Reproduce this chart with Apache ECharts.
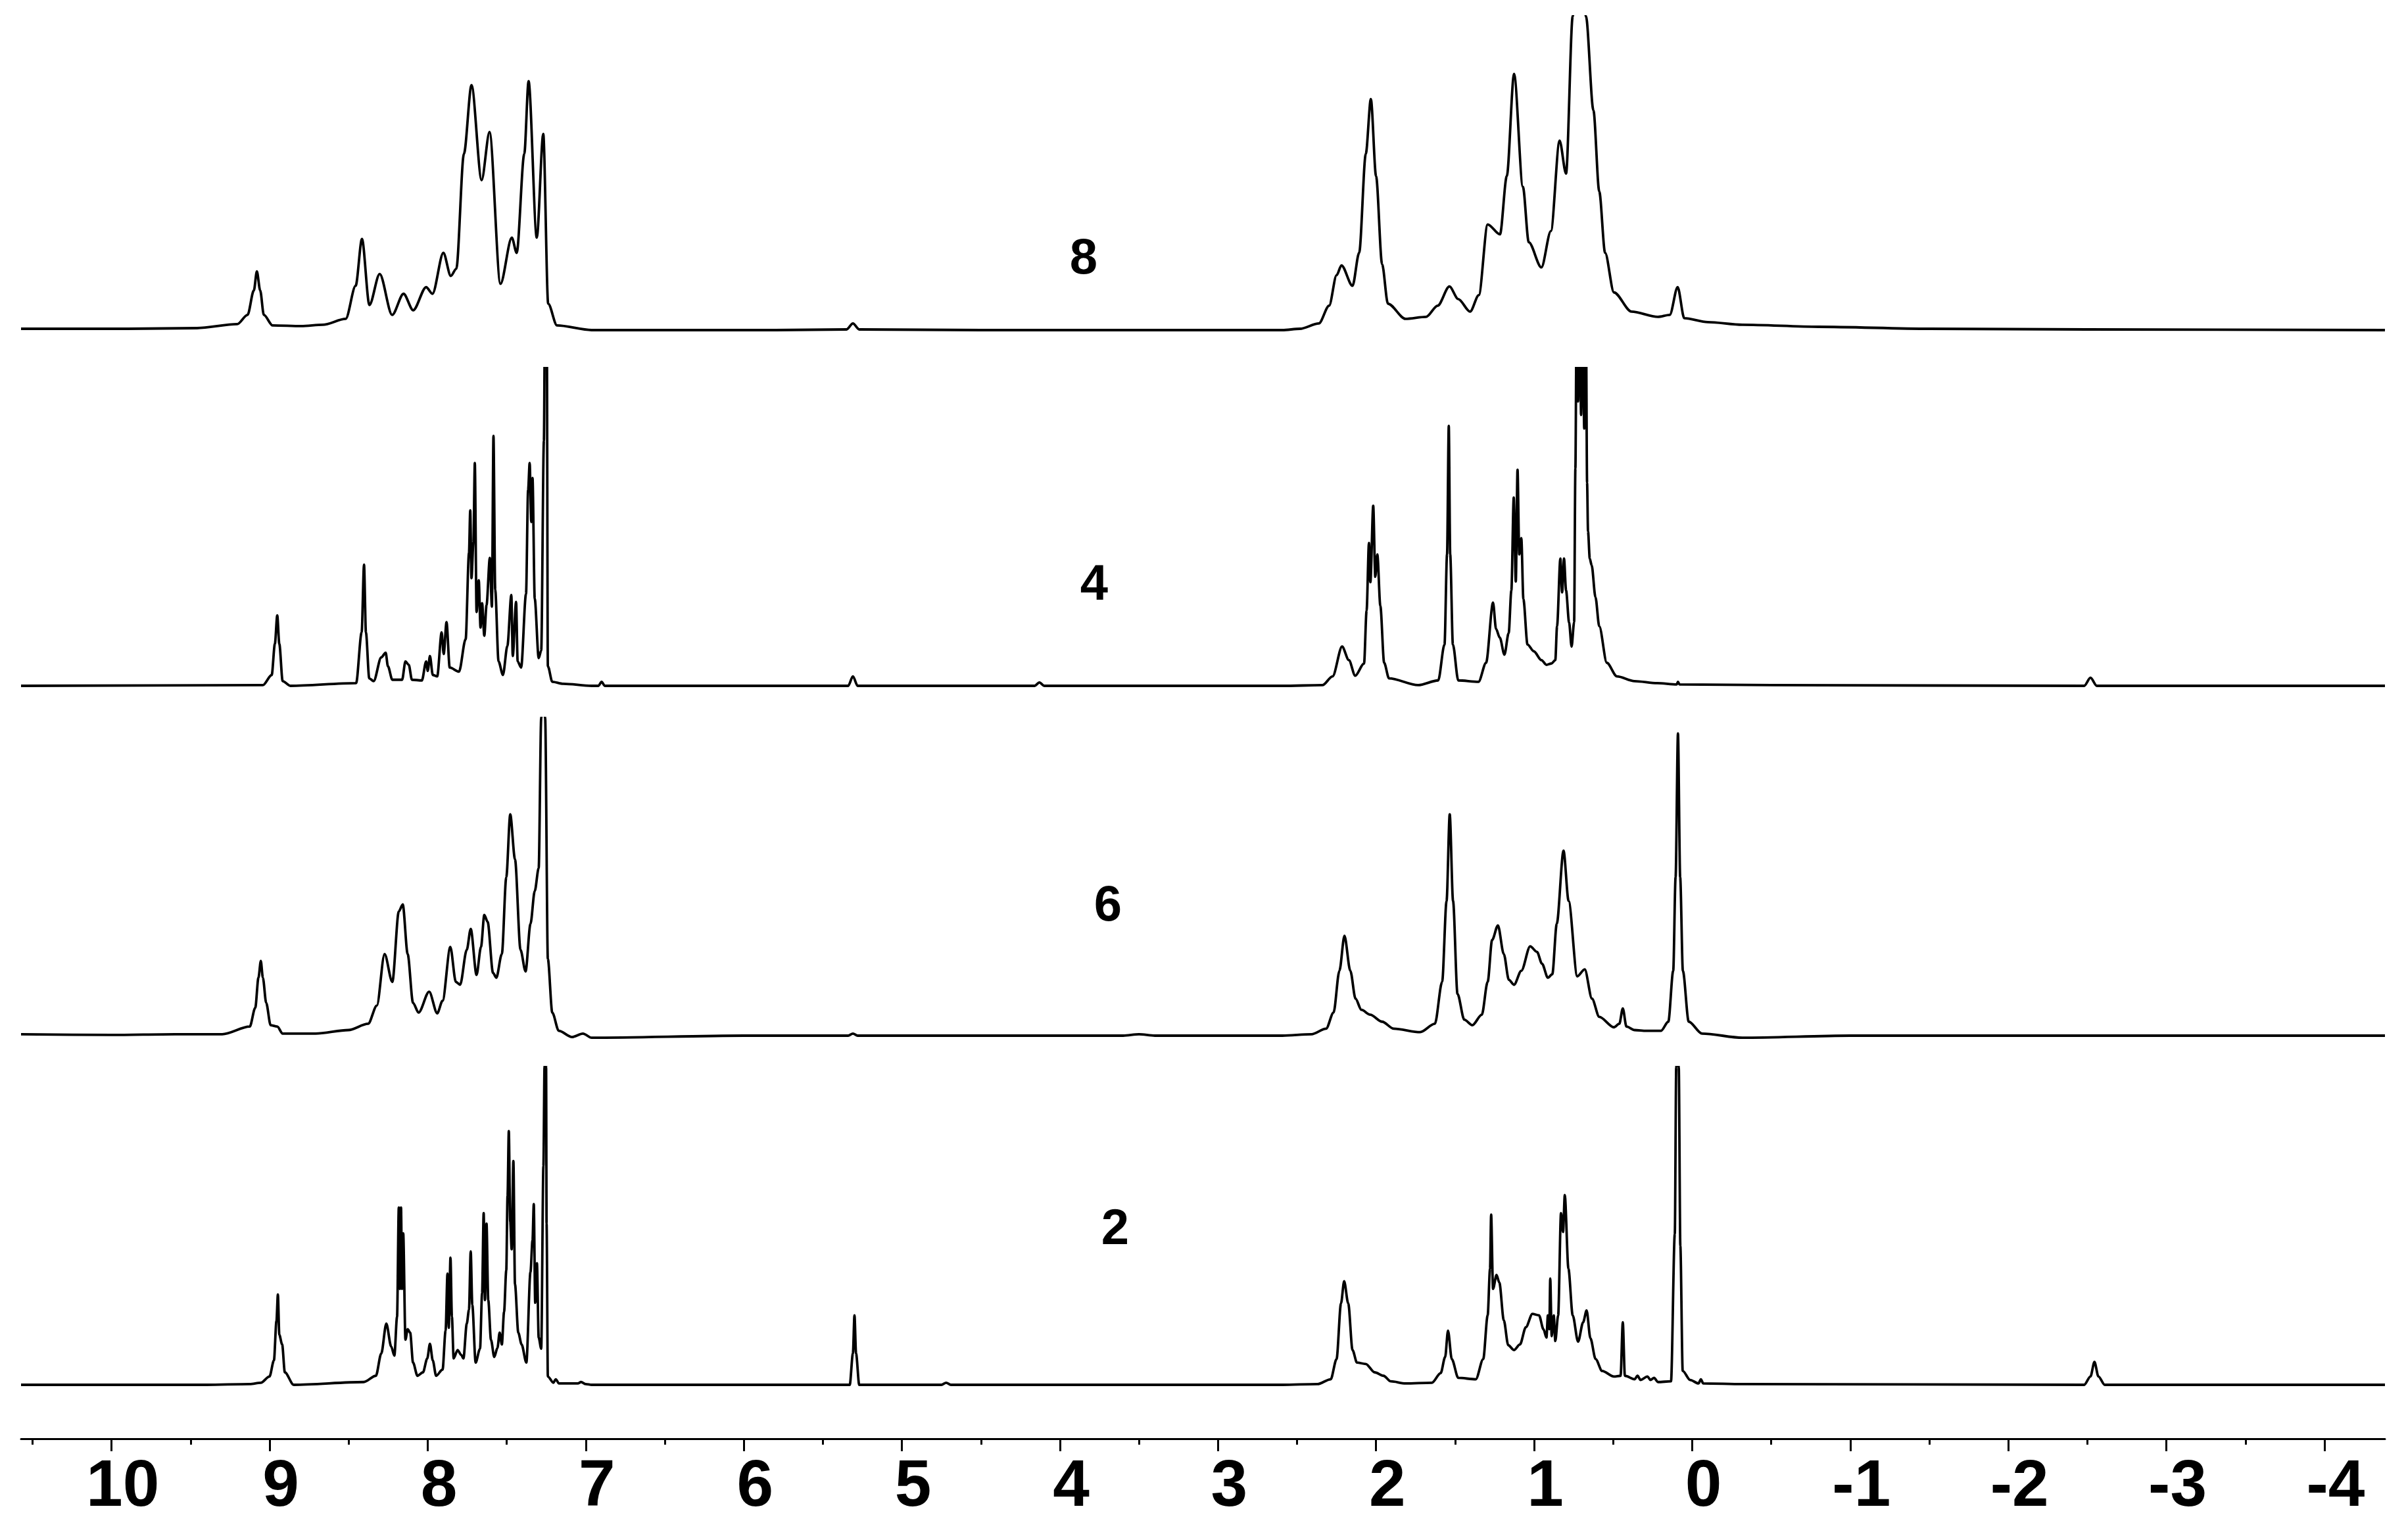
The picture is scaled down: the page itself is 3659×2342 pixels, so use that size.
<!DOCTYPE html>
<html><head><meta charset="utf-8">
<script src="https://cdn.jsdelivr.net/npm/echarts@6/dist/echarts.min.js"></script>
<style>html,body{margin:0;padding:0;background:#fff}#c{width:3659px;height:2342px}</style>
</head><body><div id="c"></div>
<script>
// ---- data: [chemical shift (ppm), intensity (arb. units)] ----
const spectrum8 = [[10.573,2],[9.9,2],[9.46,3],[9.205,9],[9.14,23],[9.1,60],[9.081,89],[9.06,60],[9.037,23],[8.981,7],[8.8,6],[8.664,8],[8.519,17],[8.456,67],[8.416,138],[8.369,38],[8.304,85],[8.225,23],[8.153,55],[8.092,30],[8.01,65],[7.97,55],[7.901,117],[7.854,82],[7.819,93],[7.771,267],[7.723,371],[7.659,227],[7.609,300],[7.54,70],[7.468,140],[7.437,117],[7.389,267],[7.362,377],[7.31,140],[7.269,297],[7.238,40],[7.182,7],[6.963,0],[5.8,0],[5.35,1],[5.31,10],[5.27,1],[4.5,0],[3.5,0],[2.593,0],[2.482,2],[2.362,10],[2.297,37],[2.25,83],[2.219,98],[2.149,67],[2.107,117],[2.065,267],[2.033,350],[2.0,233],[1.962,100],[1.925,40],[1.814,17],[1.684,20],[1.61,37],[1.536,66],[1.48,47],[1.405,28],[1.35,53],[1.294,160],[1.216,145],[1.173,233],[1.127,388],[1.071,217],[1.034,133],[0.954,95],[0.894,150],[0.839,287],[0.798,237],[0.756,475],[0.715,620],[0.672,475],[0.625,333],[0.588,210],[0.551,117],[0.495,57],[0.384,28],[0.217,20],[0.142,23],[0.092,65],[0.05,18],[-0.099,12],[-0.318,8],[-0.8,5],[-1.5,2],[-2.5,1],[-4.383,0]];

const spectrum4 = [[10.573,0],[9.043,1],[8.987,16],[8.967,62],[8.952,104],[8.939,62],[8.918,7],[8.869,0],[8.453,4],[8.418,79],[8.403,179],[8.391,79],[8.37,11],[8.342,7],[8.294,42],[8.266,49],[8.252,29],[8.224,9],[8.162,9],[8.141,36],[8.12,31],[8.1,9],[8.037,8],[8.01,36],[8.0,22],[7.986,44],[7.968,16],[7.94,14],[7.912,79],[7.899,47],[7.881,94],[7.861,27],[7.802,21],[7.76,69],[7.739,196],[7.731,259],[7.723,159],[7.711,212],[7.702,329],[7.691,109],[7.677,156],[7.666,86],[7.656,122],[7.642,74],[7.628,119],[7.607,189],[7.594,117],[7.584,369],[7.573,142],[7.552,36],[7.524,16],[7.496,59],[7.471,134],[7.462,44],[7.441,124],[7.431,36],[7.409,27],[7.378,136],[7.365,289],[7.355,329],[7.345,242],[7.337,307],[7.323,129],[7.298,41],[7.282,52],[7.265,362],[7.258,560],[7.247,560],[7.24,29],[7.212,6],[7.143,3],[6.963,0],[6.92,0],[6.9,6],[6.88,0],[5.34,0],[5.31,14],[5.28,0],[4.16,0],[4.13,5],[4.1,0],[2.593,0],[2.339,1],[2.275,14],[2.215,58],[2.172,38],[2.132,15],[2.076,33],[2.06,111],[2.045,211],[2.036,153],[2.018,266],[2.005,161],[1.992,194],[1.973,118],[1.949,34],[1.918,11],[1.734,1],[1.607,8],[1.567,61],[1.551,194],[1.54,384],[1.531,194],[1.514,61],[1.48,8],[1.352,6],[1.304,34],[1.26,123],[1.241,84],[1.217,71],[1.188,46],[1.161,78],[1.144,141],[1.129,278],[1.116,154],[1.105,319],[1.094,194],[1.081,218],[1.068,128],[1.042,61],[1.002,51],[0.954,38],[0.922,31],[0.89,33],[0.866,38],[0.855,88],[0.834,188],[0.823,138],[0.811,188],[0.798,141],[0.779,94],[0.763,58],[0.747,94],[0.739,321],[0.731,560],[0.722,420],[0.712,600],[0.703,400],[0.693,560],[0.683,380],[0.672,540],[0.665,300],[0.659,228],[0.648,188],[0.636,178],[0.612,131],[0.588,88],[0.54,34],[0.476,14],[0.365,7],[0.222,4],[0.098,2],[0.09,6],[0.08,2],[-0.5,1],[-2.48,0],[-2.52,12],[-2.56,0],[-4.383,0]];

const spectrum6 = [[10.573,2],[10.0,1],[9.6,2],[9.3,2],[9.126,13],[9.091,40],[9.071,83],[9.056,107],[9.043,83],[9.022,47],[8.994,15],[8.952,13],[8.918,3],[8.71,3],[8.502,8],[8.377,17],[8.322,43],[8.273,117],[8.224,77],[8.183,178],[8.158,188],[8.127,117],[8.093,47],[8.058,33],[7.991,63],[7.94,32],[7.906,50],[7.857,127],[7.822,77],[7.795,73],[7.753,123],[7.728,153],[7.691,87],[7.663,127],[7.642,173],[7.621,163],[7.587,90],[7.566,83],[7.531,117],[7.503,227],[7.478,317],[7.448,253],[7.413,123],[7.381,92],[7.35,160],[7.323,207],[7.298,240],[7.282,455],[7.27,560],[7.257,455],[7.24,110],[7.212,33],[7.171,7],[7.087,-2],[7.018,3],[6.963,-3],[6.0,0],[5.34,0],[5.31,3],[5.28,0],[3.6,0],[3.5,2],[3.4,0],[2.593,0],[2.409,2],[2.316,10],[2.269,33],[2.232,93],[2.2,143],[2.163,93],[2.13,53],[2.093,37],[2.037,30],[1.962,20],[1.888,10],[1.721,5],[1.628,17],[1.582,77],[1.554,193],[1.534,317],[1.513,193],[1.485,60],[1.442,23],[1.391,15],[1.331,30],[1.294,77],[1.266,137],[1.229,158],[1.192,117],[1.16,80],[1.127,73],[1.081,93],[1.025,128],[0.982,120],[0.95,103],[0.913,83],[0.885,88],[0.857,160],[0.814,265],[0.782,193],[0.727,85],[0.68,95],[0.634,53],[0.588,27],[0.495,12],[0.461,17],[0.439,39],[0.416,13],[0.364,8],[0.291,7],[0.197,7],[0.151,20],[0.12,93],[0.105,227],[0.09,433],[0.076,227],[0.059,93],[0.022,20],[-0.062,3],[-0.318,-3],[-1.0,0],[-4.383,0]];

const spectrum2 = [[10.573,0],[9.4,0],[9.126,1],[9.056,3],[9.001,12],[8.973,35],[8.957,92],[8.948,130],[8.939,72],[8.921,58],[8.904,18],[8.848,0],[8.405,4],[8.328,13],[8.294,45],[8.262,88],[8.231,55],[8.211,42],[8.194,98],[8.183,255],[8.176,138],[8.169,255],[8.162,138],[8.155,218],[8.141,65],[8.127,80],[8.111,75],[8.093,32],[8.065,13],[8.03,18],[8.003,38],[7.986,59],[7.968,35],[7.947,13],[7.906,22],[7.887,78],[7.875,160],[7.867,82],[7.856,183],[7.847,98],[7.836,38],[7.811,50],[7.788,43],[7.774,38],[7.753,88],[7.739,108],[7.728,192],[7.718,115],[7.697,32],[7.669,52],[7.656,132],[7.646,247],[7.638,122],[7.628,232],[7.617,122],[7.6,65],[7.579,40],[7.559,53],[7.545,75],[7.531,58],[7.517,105],[7.503,165],[7.495,272],[7.487,365],[7.478,235],[7.469,195],[7.458,322],[7.448,145],[7.427,75],[7.406,58],[7.376,32],[7.35,162],[7.337,208],[7.329,260],[7.32,118],[7.309,175],[7.298,68],[7.282,52],[7.268,315],[7.261,457],[7.256,600],[7.251,457],[7.248,232],[7.24,12],[7.205,3],[7.19,8],[7.17,2],[7.05,2],[7.03,4],[7.0,1],[6.963,0],[5.33,0],[5.31,45],[5.30,100],[5.29,45],[5.27,0],[4.75,0],[4.72,3],[4.69,0],[2.593,0],[2.371,1],[2.287,8],[2.25,37],[2.222,117],[2.202,149],[2.176,117],[2.149,50],[2.121,32],[2.065,30],[2.009,18],[1.953,13],[1.907,5],[1.814,2],[1.647,3],[1.591,17],[1.563,40],[1.545,78],[1.521,37],[1.48,10],[1.369,8],[1.322,37],[1.294,100],[1.279,167],[1.272,245],[1.26,138],[1.238,158],[1.22,147],[1.192,93],[1.164,57],[1.127,50],[1.09,58],[1.052,83],[1.011,102],[0.969,100],[0.941,80],[0.922,68],[0.913,100],[0.904,80],[0.898,153],[0.889,70],[0.876,100],[0.866,63],[0.848,100],[0.83,247],[0.817,220],[0.806,273],[0.783,167],[0.756,100],[0.722,62],[0.69,90],[0.668,107],[0.644,67],[0.611,37],[0.57,20],[0.495,12],[0.453,13],[0.439,90],[0.426,13],[0.364,8],[0.346,13],[0.327,7],[0.283,12],[0.264,7],[0.241,10],[0.217,4],[0.134,5],[0.11,217],[0.101,457],[0.094,620],[0.085,457],[0.075,200],[0.06,20],[0.013,7],[-0.04,2],[-0.055,8],[-0.07,2],[-0.318,1],[-2.48,0],[-2.52,12],[-2.545,33],[-2.57,12],[-2.61,0],[-4.383,0]];

const traceNames = ['8', '4', '6', '2'];
const majorTicks = [10, 9, 8, 7, 6, 5, 4, 3, 2, 1, 0, -1, -2, -3, -4];
const minorTicks = [10.5, 9.5, 8.5, 7.5, 6.5, 5.5, 4.5, 3.5, 2.5, 1.5, 0.5, -0.5, -1.5, -2.5, -3.5];
const xRange = [-4.383, 10.573];
const clipLevel = [475, 469, 455, 457];   // intensity at which each trace is cut off

// ---- layout ----
const spectra = [spectrum8, spectrum4, spectrum6, spectrum2];
const baseY = [502, 1043, 1575, 2106];
const clipPx = [477, 483, 483, 483];
const axisY = 2188;
const labelPos = [[1648, 395], [1664, 891], [1685, 1379], [1696, 1871]];
const FONT = '"Liberation Sans", Arial, Helvetica, sans-serif';

const grids = [], xAxes = [], yAxes = [], series = [];
spectra.forEach((data, i) => {
  const top = baseY[i] - clipPx[i];
  const bottom = i === 3 ? axisY : baseY[i] + 30;
  grids.push({ left: 32, right: 32, top: top, height: bottom - top });
  const ymax = clipLevel[i];
  const ymin = -(bottom - baseY[i]) * ymax / clipPx[i];
  yAxes.push({ type: 'value', gridIndex: i, min: ymin, max: ymax, show: false });
  const last = i === 3;
  xAxes.push({
    type: 'value', gridIndex: i, min: xRange[0], max: xRange[1], inverse: true,
    position: 'bottom', show: last,
    axisLine: { show: last, onZero: false, lineStyle: { color: '#000', width: 3 } },
    axisTick: { show: last, customValues: majorTicks, length: 19, lineStyle: { color: '#000', width: 3 } },
    axisLabel: {
      show: last, customValues: majorTicks, margin: 24, padding: [0, 0, 0, 34],
      fontSize: 100, fontWeight: 'bold', fontFamily: FONT, color: '#000',
      formatter: v => String(v)
    },
    splitLine: { show: false }
  });
  series.push({
    type: 'line', xAxisIndex: i, yAxisIndex: i, data: data,
    showSymbol: false, symbol: 'none', clip: true,
    smooth: 0.3, smoothMonotone: 'x',
    lineStyle: { color: '#000', width: 3.8, join: 'round' },
    animation: false, silent: true
  });
});
// minor ticks on the bottom axis
xAxes.push({
  type: 'value', gridIndex: 3, min: xRange[0], max: xRange[1], inverse: true,
  position: 'bottom', offset: 0,
  axisLine: { show: false, onZero: false },
  axisTick: { show: true, customValues: minorTicks, length: 9, lineStyle: { color: '#000', width: 3 } },
  axisLabel: { show: false },
  splitLine: { show: false }
});

const graphic = traceNames.map((t, i) => ({
  type: 'text', x: labelPos[i][0], y: labelPos[i][1],
  style: { text: t, fill: '#000', font: 'bold 76px ' + FONT, textAlign: 'center', textVerticalAlign: 'middle' }
}));

const chart = echarts.init(document.getElementById('c'), null, { renderer: 'canvas' });
chart.setOption({
  backgroundColor: '#fff',
  animation: false,
  grid: grids, xAxis: xAxes, yAxis: yAxes, series: series, graphic: graphic
});
</script>
</body></html>
